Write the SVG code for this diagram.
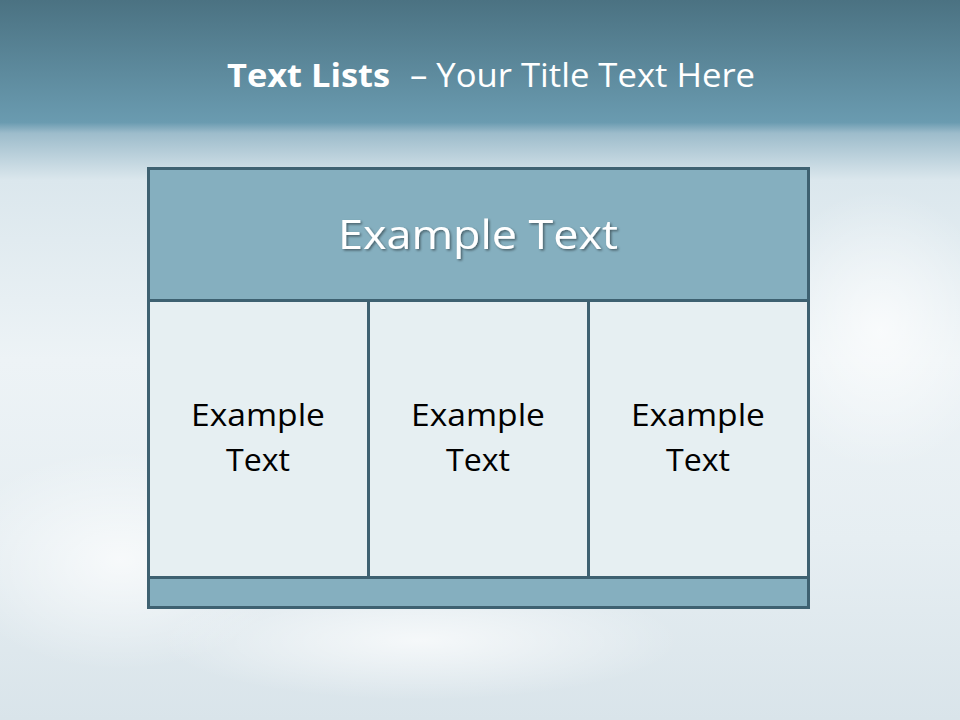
<svg xmlns="http://www.w3.org/2000/svg" width="960" height="720" viewBox="0 0 960 720">
<defs>
<linearGradient id="sky" x1="0" y1="0" x2="0" y2="1">
<stop offset="0" stop-color="#4b7282"/>
<stop offset="0.17" stop-color="#6a9bb0"/>
<stop offset="0.185" stop-color="#9dbccb"/>
<stop offset="0.25" stop-color="#dbe7ed"/>
<stop offset="0.5" stop-color="#edf3f6"/>
<stop offset="0.75" stop-color="#e6eef2"/>
<stop offset="1" stop-color="#d9e4ea"/>
</linearGradient>
<radialGradient id="cloud" cx="0.5" cy="0.5" r="0.5">
<stop offset="0" stop-color="#ffffff" stop-opacity="0.7"/>
<stop offset="1" stop-color="#ffffff" stop-opacity="0"/>
</radialGradient>
<filter id="sh" x="-10%" y="-30%" width="120%" height="160%">
<feDropShadow dx="1.5" dy="1.5" stdDeviation="1" flood-color="#000" flood-opacity="0.45"/>
</filter>
</defs>
<style>
.cell{fill:#e6eff2;stroke:#3e6171;stroke-width:3}
.band{fill:#85afbf;stroke:#3e6171;stroke-width:3}
.lbl{font-family:"Open Sans","Liberation Sans",sans-serif;font-size:31px;fill:#000;text-anchor:middle}
</style>
<rect width="960" height="720" fill="url(#sky)"/>
<ellipse cx="120" cy="560" rx="170" ry="110" fill="url(#cloud)"/>
<ellipse cx="420" cy="640" rx="260" ry="60" fill="url(#cloud)"/>
<ellipse cx="880" cy="330" rx="120" ry="140" fill="url(#cloud)"/>
<g id="title">
<text x="227" y="87" font-family="'Open Sans','Liberation Sans',sans-serif" font-size="32" fill="#ffffff"><tspan font-weight="bold" textLength="163" lengthAdjust="spacingAndGlyphs">Text Lists</tspan><tspan x="410" textLength="345" lengthAdjust="spacingAndGlyphs">– Your Title Text Here</tspan></text>
</g>
<g id="header">
<rect class="band" x="148.5" y="168.5" width="660" height="132"/>
<text x="478" y="249" font-family="'Open Sans','Liberation Sans',sans-serif" font-size="40" fill="#ffffff" text-anchor="middle" filter="url(#sh)" textLength="280" lengthAdjust="spacingAndGlyphs">Example Text</text>
</g>
<g id="col1">
<rect class="cell" x="148.5" y="300.5" width="220" height="277"/>
<text class="lbl" x="258" y="426" textLength="134" lengthAdjust="spacingAndGlyphs">Example</text>
<text class="lbl" x="258" y="471" textLength="64" lengthAdjust="spacingAndGlyphs">Text</text>
</g>
<g id="col2">
<rect class="cell" x="368.5" y="300.5" width="220" height="277"/>
<text class="lbl" x="478" y="426" textLength="134" lengthAdjust="spacingAndGlyphs">Example</text>
<text class="lbl" x="478" y="471" textLength="64" lengthAdjust="spacingAndGlyphs">Text</text>
</g>
<g id="col3">
<rect class="cell" x="588.5" y="300.5" width="220" height="277"/>
<text class="lbl" x="698" y="426" textLength="134" lengthAdjust="spacingAndGlyphs">Example</text>
<text class="lbl" x="698" y="471" textLength="64" lengthAdjust="spacingAndGlyphs">Text</text>
</g>
<g id="footer">
<rect class="band" x="148.5" y="577.5" width="660" height="30"/>
</g>
<g id="connectors"/>
</svg>
